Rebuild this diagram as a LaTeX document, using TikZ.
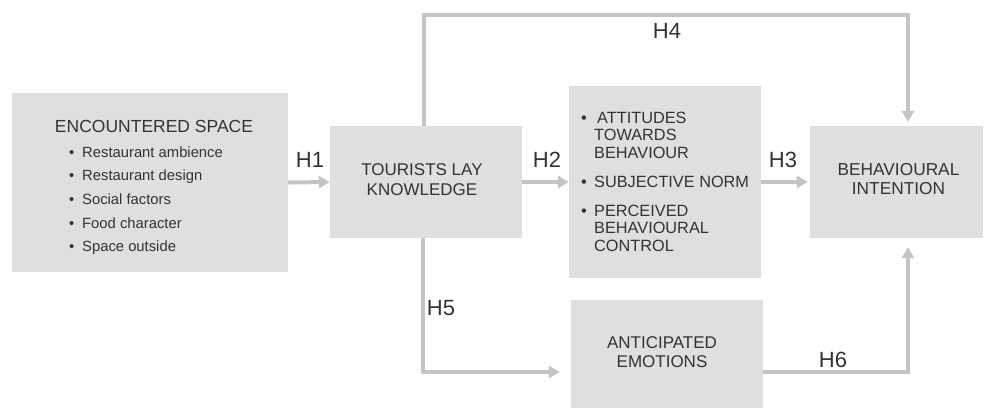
\documentclass[tikz,border=0pt]{standalone}
\usepackage{fontspec}
\setmainfont{Liberation Sans}
\usetikzlibrary{arrows.meta}
\definecolor{boxfill}{HTML}{DFDFDF}
\definecolor{linegray}{HTML}{C4C4C4}
\definecolor{txt}{HTML}{333333}
\begin{document}
\begin{tikzpicture}[x=1pt,y=-1pt,
  box/.style={fill=boxfill, draw=none, inner sep=0pt},
  conn/.style={draw=linegray, line width=4pt, -{Triangle[length=11pt,width=12pt]}},
  txtnode/.style={text=txt, inner sep=0pt, anchor=base},
  lbl/.style={txtnode, font=\fontsize{22}{22}\selectfont},
  ttl/.style={txtnode, font=\fontsize{17.5}{17.5}\selectfont},
  itm/.style={txtnode, anchor=base west, font=\fontsize{14.8}{14.8}\selectfont},
  mid/.style={txtnode, font=\fontsize{17}{17}\selectfont},
  abl/.style={txtnode, anchor=base west, font=\fontsize{16.3}{16.3}\selectfont}]
\useasboundingbox (0,0) rectangle (987,407);
\clip (0,0) rectangle (987,407);

% boxes
\node[box, minimum width=276pt, minimum height=179pt] (es) at (150,182.5) {};
\node[box, minimum width=192pt, minimum height=112pt] (tlk) at (426,182) {};
\node[box, minimum width=192pt, minimum height=192pt] (ab) at (665,182) {};
\node[box, minimum width=173pt, minimum height=112pt] (bi) at (896.5,182) {};
\node[box, minimum width=192pt, minimum height=110pt] (ae) at (667,355) {};

% box 1 text
\node[ttl] (es-t) at (154,132) {ENCOUNTERED SPACE};
\node[itm] (es-1) at (69,157) {\makebox[13pt][l]{\textbullet}Restaurant ambience};
\node[itm] (es-2) at (69,180.5) {\makebox[13pt][l]{\textbullet}Restaurant design};
\node[itm] (es-3) at (69,204) {\makebox[13pt][l]{\textbullet}Social factors};
\node[itm] (es-4) at (69,228) {\makebox[13pt][l]{\textbullet}Food character};
\node[itm] (es-5) at (69,251) {\makebox[13pt][l]{\textbullet}Space outside};

% box 2 text
\node[mid] (tlk-1) at (422,175) {TOURISTS LAY};
\node[mid] (tlk-2) at (422,195) {KNOWLEDGE};

% box 3 text
\node[abl] (ab-1) at (581,123) {\makebox[13pt][l]{\textbullet}\hspace{3pt}ATTITUDES};
\node[abl] (ab-2) at (594,140.5) {TOWARDS};
\node[abl] (ab-3) at (594,158) {BEHAVIOUR};
\node[abl] (ab-4) at (581,187) {\makebox[13pt][l]{\textbullet}SUBJECTIVE NORM};
\node[abl] (ab-5) at (581,216) {\makebox[13pt][l]{\textbullet}PERCEIVED};
\node[abl] (ab-6) at (594,233.5) {BEHAVIOURAL};
\node[abl] (ab-7) at (594,251) {CONTROL};

% box 4 text
\node[mid, font=\fontsize{17.3}{17.3}\selectfont] (bi-1) at (898.5,175) {BEHAVIOURAL};
\node[mid, font=\fontsize{17.3}{17.3}\selectfont] (bi-2) at (898.5,194) {INTENTION};

% box 5 text
\node[mid] (ae-1) at (662,348) {ANTICIPATED};
\node[mid] (ae-2) at (662,367) {EMOTIONS};

% connector corners
\coordinate (h4a) at (424,15);
\coordinate (h4b) at (908,15);
\coordinate (h5c) at (423,372);
\coordinate (h6c) at (908,372);

% connectors
\draw[conn] (es.east) -- (tlk.west);
\draw[conn] (tlk.east) -- (ab.west);
\draw[conn, shorten >=2pt] (ab.east) -- (bi.west);
\draw[conn, shorten >=4pt] (tlk.north -| h4a) -- (h4a) -- (h4b) -- (bi.north -| h4b);
\draw[conn, shorten >=11pt] (tlk.south -| h5c) -- (h5c) -- (ae.west |- h5c);
\draw[conn, shorten >=9pt] (ae.east |- h6c) -- (h6c) -- (bi.south -| h6c);

% labels
\node[lbl] (l1) at (310,167) {H1};
\node[lbl] (l2) at (547,167) {H2};
\node[lbl] (l3) at (783,167) {H3};
\node[lbl] (l4) at (667,38) {H4};
\node[lbl] (l5) at (441,315) {H5};
\node[lbl] (l6) at (833,367) {H6};
\end{tikzpicture}
\end{document}
